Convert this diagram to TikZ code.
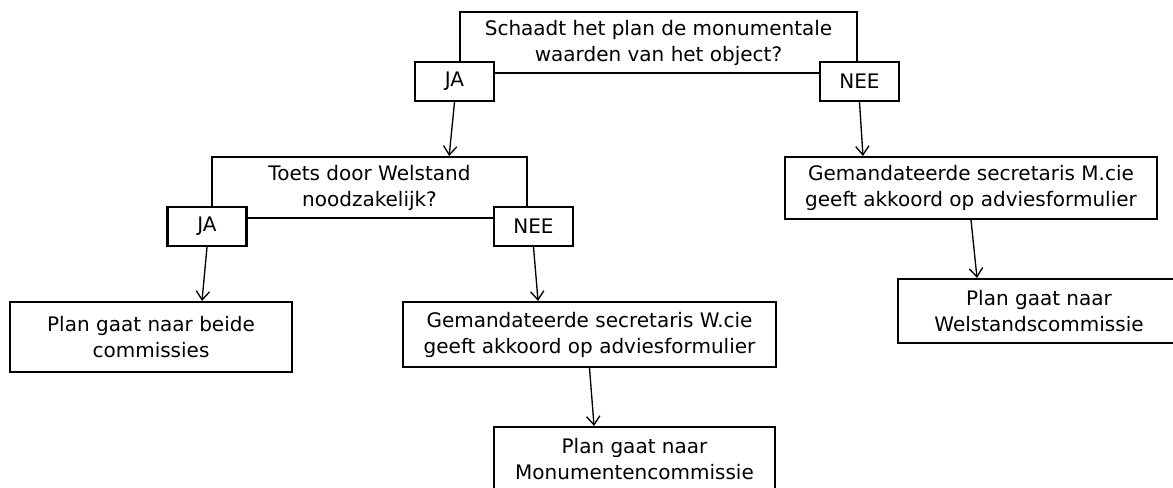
\documentclass[tikz,border=0pt]{standalone}
\usepackage{fontspec}
\setmainfont{DejaVu Sans}
\usetikzlibrary{calc,shapes,arrows.meta}
\usepackage{xcolor}

\begin{document}
\begin{tikzpicture}[x=0.75pt,y=-0.75pt,
			font=\fontsize{15}{19.5}\selectfont]
			\tikzstyle{vak}=[draw,line width=1.6pt,fill=white,align=center,inner sep=0pt]
			\tikzstyle{antw}=[vak,minimum width=59.25pt,minimum height=29.25pt]
			\tikzstyle{pijl}=[-{Straight Barb[length=6.5pt,width=10pt]},line width=1pt]
			\useasboundingbox (0,0) rectangle (1173,487);
			% vragen
			\node[vak,minimum width=297.75pt,minimum height=45.75pt] (vraag1) at (658.5,42.5) {Schaadt het plan de monumentale\\waarden van het object?};
			\node[vak,minimum width=236.25pt,minimum height=45.75pt] (vraag2) at (369.5,187.5) {Toets door Welstand\\noodzakelijk?};
			% antwoorden
			\node[antw] (ja1) at (454.5,81.5) {JA};
			\node[antw] (nee1) at (859.5,81.5) {NEE};
			\node[antw] (ja2) at (207,226.5) {JA};
			\node[antw] (nee2) at (533.5,226.5) {NEE};
			% uitkomsten
			\node[vak,minimum width=211.5pt,minimum height=52.5pt] (beide) at (151,337) {Plan gaat naar beide\\commissies};
			\node[vak,minimum width=279.75pt,minimum height=48.75pt] (gemw) at (589.5,334.5) {Gemandateerde secretaris W.cie\\geeft akkoord op adviesformulier};
			\node[vak,minimum width=210.75pt,minimum height=48.75pt] (monu) at (634.5,459.5) {Plan gaat naar\\Monumentencommissie};
			\node[vak,minimum width=279pt,minimum height=46.5pt] (gemm) at (971,188) {Gemandateerde secretaris M.cie\\geeft akkoord op adviesformulier};
			\node[vak,minimum width=211.5pt,minimum height=48pt] (welst) at (1039,311) {Plan gaat naar\\Welstandscommissie};
			% pijlen
			\draw[pijl] (ja1.south) -- ([xshift=-4pt]ja1.south |- vraag2.north);
			\draw[pijl] (nee1.south) -- ([xshift=2.6pt]nee1.south |- gemm.north);
			\draw[pijl] (ja2.south) -- ([xshift=-3.75pt]ja2.south |- beide.north);
			\draw[pijl] (nee2.south) -- ([xshift=3.4pt]nee2.south |- gemw.north);
			\draw[pijl] (gemw.south) -- ([xshift=3.4pt]gemw.south |- monu.north);
			\draw[pijl] (gemm.south) -- ([xshift=4.5pt]gemm.south |- welst.north);
		\end{tikzpicture}
\end{document}
